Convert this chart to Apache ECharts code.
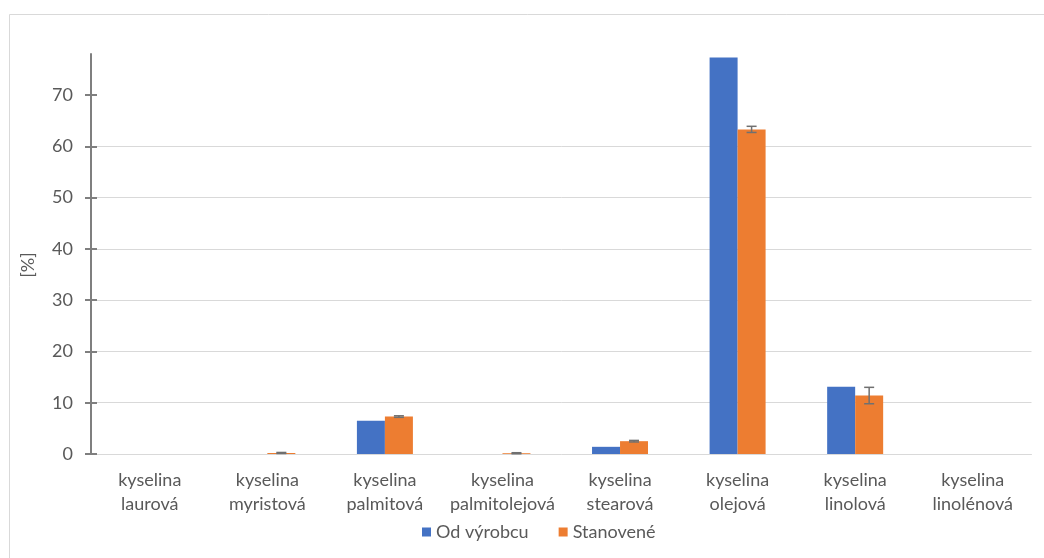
<!DOCTYPE html>
<html>
<head>
<meta charset="utf-8">
<title>Mastné kyseliny</title>
<script src="https://cdn.jsdelivr.net/npm/echarts@6/dist/echarts.min.js"></script>
<style>
  html, body { margin: 0; padding: 0; background: #ffffff; }
  #chart { width: 1044px; height: 558px; }
</style>
</head>
<body>
<div id="chart"></div>
<script>
// Fatty acid composition: declared by the producer vs. determined
const categories = [
  'kyselina\nlaurová', 'kyselina\nmyristová', 'kyselina\npalmitová', 'kyselina\npalmitolejová',
  'kyselina\nstearová', 'kyselina\nolejová', 'kyselina\nlinolová', 'kyselina\nlinolénová'
];
const seriesNames = ['Od výrobcu', 'Stanovené'];
const producerValues = [0, 0, 6.5, 0, 1.4, 77.3, 13.1, 0];
const measuredValues = [0, 0.2, 7.3, 0.15, 2.5, 63.3, 11.4, 0];
const measuredErrors = [0, 0.1, 0.15, 0.1, 0.15, 0.6, 1.6, 0];
const yTicks = [0, 10, 20, 30, 40, 50, 60, 70];
const yMax = 78;

const textColor = '#595959';
const fontFamily = 'Lato, "Noto Sans", sans-serif';
const fontSize = 18;
const barWidth = 28;

const chart = echarts.init(document.getElementById('chart'), null, { renderer: 'canvas' });

const errorData = measuredValues
  .map((v, i) => [i, v - measuredErrors[i], v + measuredErrors[i]])
  .filter((d, i) => measuredErrors[i] > 0);

chart.setOption({
  backgroundColor: '#ffffff',
  animation: false,
  textStyle: { fontFamily: fontFamily },
  graphic: [{
    type: 'rect',
    shape: { x: 9.5, y: 14.5, width: 1100, height: 600 },
    style: { fill: 'none', stroke: '#d9d9d9', lineWidth: 1 },
    silent: true,
    z: -10
  }],
  grid: { left: 91, right: 12.5, top: 54, bottom: 104 },
  legend: {
    bottom: 12,
    left: 417,
    itemWidth: 9,
    itemHeight: 9,
    itemGap: 30,
    icon: 'rect',
    data: seriesNames,
    textStyle: { color: textColor, fontSize: fontSize, fontFamily: fontFamily, padding: [0, 0, 0, 0] }
  },
  xAxis: {
    type: 'category',
    data: categories,
    axisLine: { show: true, lineStyle: { color: '#d9d9d9', width: 1 } },
    axisTick: { show: false },
    splitLine: { show: false },
    axisLabel: {
      color: textColor,
      fontSize: fontSize,
      lineHeight: 24,
      margin: 14,
      interval: 0,
      fontFamily: fontFamily
    }
  },
  yAxis: [{
    type: 'value',
    min: 0,
    max: yMax,
    interval: 10,
    name: '[%]',
    nameLocation: 'middle',
    nameGap: 54,
    nameRotate: 90,
    nameTextStyle: { color: textColor, fontSize: fontSize, fontFamily: fontFamily, padding: [0, 22, 0, 0] },
    axisLine: { show: true, lineStyle: { color: '#7f7f7f', width: 2 } },
    axisTick: {
      show: true, inside: false, length: 6,
      customValues: yTicks,
      lineStyle: { color: '#7f7f7f', width: 2 }
    },
    axisLabel: {
      color: textColor, fontSize: fontSize, margin: 18,
      customValues: yTicks,
      fontFamily: fontFamily
    },
    splitLine: { show: true, showMaxLine: false, showMinLine: false, lineStyle: { color: '#d9d9d9', width: 1 } }
  }, {
    // inner half of the crossing tick marks
    type: 'value',
    min: 0,
    max: yMax,
    interval: 10,
    position: 'left',
    axisLine: { show: false },
    axisTick: {
      show: true, inside: true, length: 6,
      customValues: yTicks,
      lineStyle: { color: '#7f7f7f', width: 2 }
    },
    axisLabel: { show: false },
    splitLine: { show: false }
  }],
  series: [{
    name: seriesNames[0],
    type: 'bar',
    data: producerValues,
    barWidth: barWidth,
    barGap: '0%',
    itemStyle: { color: '#4472C4' },
    z: 2
  }, {
    name: seriesNames[1],
    type: 'bar',
    data: measuredValues,
    barWidth: barWidth,
    barGap: '0%',
    itemStyle: { color: '#ED7D31' },
    z: 2
  }, {
    type: 'custom',
    name: 'error',
    data: errorData,
    z: 5,
    silent: true,
    renderItem: function (params, api) {
      const idx = api.value(0);
      const low = api.coord([idx, api.value(1)]);
      const high = api.coord([idx, api.value(2)]);
      const x = low[0] + barWidth / 2;
      const cap = 5;
      const style = { stroke: '#707070', lineWidth: 1.5 };
      return {
        type: 'group',
        children: [
          { type: 'line', shape: { x1: x, y1: high[1], x2: x, y2: low[1] }, style: style },
          { type: 'line', shape: { x1: x - cap, y1: high[1], x2: x + cap, y2: high[1] }, style: style },
          { type: 'line', shape: { x1: x - cap, y1: low[1], x2: x + cap, y2: low[1] }, style: style }
        ]
      };
    }
  }]
});
</script>
</body>
</html>
